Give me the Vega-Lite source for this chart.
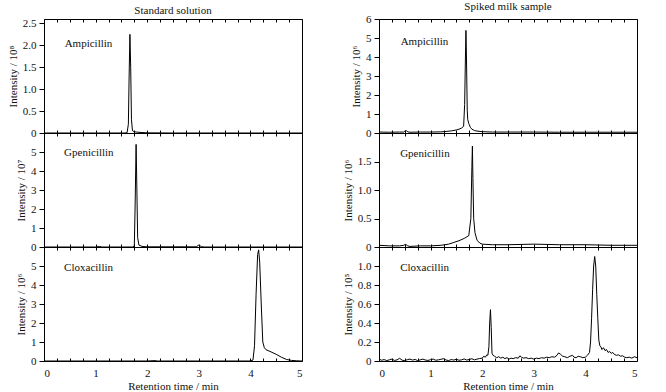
{
  "$schema": "https://vega.github.io/schema/vega-lite/v6.json",
  "padding": {"left": 6, "top": 0, "right": 5, "bottom": 0},
  "config": {
    "font": "Liberation Serif, serif",
    "view": {"stroke": "#000", "strokeWidth": 1},
    "axis": {"domain": false, "grid": false, "labelOverlap": false, "labelFont": "Liberation Serif, serif", "labelFontSize": 11, "labelColor": "#111", "titleFont": "Liberation Serif, serif", "titleFontSize": 11, "titleFontWeight": "normal", "titleColor": "#111", "tickColor": "#000"},
    "title": {"font": "Liberation Serif, serif", "fontSize": 11, "fontWeight": "normal", "color": "#111", "offset": 1},
    "text": {"font": "Liberation Serif, serif", "fontSize": 11, "color": "#111"}
  },
  "datasets": {
    "chrom": [
      {"s":"A1","t":0,"v":0},{"s":"A1","t":1.0,"v":0},{"s":"A1","t":1.55,"v":0},{"s":"A1","t":1.61,"v":0.005},{"s":"A1","t":1.635,"v":0.2},{"s":"A1","t":1.65,"v":1.3},{"s":"A1","t":1.665,"v":2.25},{"s":"A1","t":1.68,"v":1.5},{"s":"A1","t":1.695,"v":0.3},{"s":"A1","t":1.715,"v":0.05},{"s":"A1","t":1.75,"v":0.03},{"s":"A1","t":1.8,"v":0.02},{"s":"A1","t":1.9,"v":0.01},{"s":"A1","t":2.0,"v":0.004},{"s":"A1","t":2.5,"v":0},{"s":"A1","t":5,"v":0},
      {"s":"G1","t":0,"v":0},{"s":"G1","t":1.0,"v":0},{"s":"G1","t":1.08,"v":0.03},{"s":"G1","t":1.12,"v":0},{"s":"G1","t":1.72,"v":0},{"s":"G1","t":1.75,"v":0.05},{"s":"G1","t":1.765,"v":2.0},{"s":"G1","t":1.785,"v":5.4},{"s":"G1","t":1.8,"v":3.0},{"s":"G1","t":1.815,"v":0.5},{"s":"G1","t":1.84,"v":0.1},{"s":"G1","t":1.9,"v":0.03},{"s":"G1","t":2.0,"v":0.01},{"s":"G1","t":2.95,"v":0.01},{"s":"G1","t":3.0,"v":0.1},{"s":"G1","t":3.05,"v":0.02},{"s":"G1","t":3.1,"v":0},{"s":"G1","t":5,"v":0},
      {"s":"C1","t":0,"v":0},{"s":"C1","t":2.0,"v":0},{"s":"C1","t":2.15,"v":0.02},{"s":"C1","t":2.2,"v":0},{"s":"C1","t":4.0,"v":0},{"s":"C1","t":4.05,"v":0.05},{"s":"C1","t":4.08,"v":0.8},{"s":"C1","t":4.11,"v":3.5},{"s":"C1","t":4.14,"v":5.6},{"s":"C1","t":4.16,"v":5.85},{"s":"C1","t":4.18,"v":5.2},{"s":"C1","t":4.21,"v":3.0},{"s":"C1","t":4.24,"v":1.0},{"s":"C1","t":4.27,"v":0.7},{"s":"C1","t":4.3,"v":0.6},{"s":"C1","t":4.4,"v":0.48},{"s":"C1","t":4.5,"v":0.35},{"s":"C1","t":4.6,"v":0.2},{"s":"C1","t":4.7,"v":0.08},{"s":"C1","t":4.8,"v":0.03},{"s":"C1","t":4.9,"v":0.01},{"s":"C1","t":5,"v":0},
      {"s":"A2","t":0,"v":0.05},{"s":"A2","t":0.2,"v":0.04},{"s":"A2","t":0.4,"v":0.05},{"s":"A2","t":0.48,"v":0.05},{"s":"A2","t":0.5,"v":0.1},{"s":"A2","t":0.53,"v":0.12},{"s":"A2","t":0.56,"v":0.06},{"s":"A2","t":0.6,"v":0.04},{"s":"A2","t":0.8,"v":0.05},{"s":"A2","t":1.0,"v":0.05},{"s":"A2","t":1.2,"v":0.06},{"s":"A2","t":1.3,"v":0.08},{"s":"A2","t":1.4,"v":0.11},{"s":"A2","t":1.5,"v":0.16},{"s":"A2","t":1.55,"v":0.2},{"s":"A2","t":1.6,"v":0.26},{"s":"A2","t":1.64,"v":0.35},{"s":"A2","t":1.66,"v":1.5},{"s":"A2","t":1.675,"v":4.0},{"s":"A2","t":1.685,"v":5.4},{"s":"A2","t":1.695,"v":4.0},{"s":"A2","t":1.71,"v":1.2},{"s":"A2","t":1.72,"v":0.7},{"s":"A2","t":1.74,"v":0.5},{"s":"A2","t":1.77,"v":0.3},{"s":"A2","t":1.8,"v":0.2},{"s":"A2","t":1.85,"v":0.13},{"s":"A2","t":1.9,"v":0.1},{"s":"A2","t":2.0,"v":0.07},{"s":"A2","t":2.2,"v":0.05},{"s":"A2","t":2.5,"v":0.05},{"s":"A2","t":3.0,"v":0.05},{"s":"A2","t":3.5,"v":0.04},{"s":"A2","t":4.0,"v":0.04},{"s":"A2","t":4.5,"v":0.04},{"s":"A2","t":5,"v":0.04},
      {"s":"G2","t":0,"v":0.03},{"s":"G2","t":0.2,"v":0.02},{"s":"G2","t":0.4,"v":0.02},{"s":"G2","t":0.48,"v":0.03},{"s":"G2","t":0.52,"v":0.05},{"s":"G2","t":0.55,"v":0.02},{"s":"G2","t":0.6,"v":0.01},{"s":"G2","t":0.8,"v":0.02},{"s":"G2","t":1.0,"v":0.02},{"s":"G2","t":1.2,"v":0.03},{"s":"G2","t":1.35,"v":0.05},{"s":"G2","t":1.45,"v":0.08},{"s":"G2","t":1.55,"v":0.11},{"s":"G2","t":1.65,"v":0.15},{"s":"G2","t":1.74,"v":0.2},{"s":"G2","t":1.78,"v":0.5},{"s":"G2","t":1.8,"v":1.4},{"s":"G2","t":1.81,"v":1.77},{"s":"G2","t":1.82,"v":1.2},{"s":"G2","t":1.835,"v":0.5},{"s":"G2","t":1.86,"v":0.25},{"s":"G2","t":1.9,"v":0.12},{"s":"G2","t":1.95,"v":0.07},{"s":"G2","t":2.0,"v":0.05},{"s":"G2","t":2.2,"v":0.04},{"s":"G2","t":2.5,"v":0.04},{"s":"G2","t":3.0,"v":0.05},{"s":"G2","t":3.5,"v":0.04},{"s":"G2","t":4.0,"v":0.04},{"s":"G2","t":4.5,"v":0.03},{"s":"G2","t":5,"v":0.03},
      {"s":"C2","t":0,"v":0.02},{"s":"C2","t":0.05,"v":0.008},{"s":"C2","t":0.1,"v":0.015},{"s":"C2","t":0.15,"v":0.004},{"s":"C2","t":0.2,"v":0.012},{"s":"C2","t":0.25,"v":0.02},{"s":"C2","t":0.3,"v":0.006},{"s":"C2","t":0.35,"v":0.012},{"s":"C2","t":0.4,"v":0.028},{"s":"C2","t":0.45,"v":0.008},{"s":"C2","t":0.5,"v":0.004},{"s":"C2","t":0.55,"v":0.014},{"s":"C2","t":0.6,"v":0.02},{"s":"C2","t":0.65,"v":0.01},{"s":"C2","t":0.7,"v":0.016},{"s":"C2","t":0.75,"v":0.004},{"s":"C2","t":0.8,"v":0.012},{"s":"C2","t":0.85,"v":0.02},{"s":"C2","t":0.9,"v":0.01},{"s":"C2","t":0.95,"v":0.006},{"s":"C2","t":1.0,"v":0.014},{"s":"C2","t":1.05,"v":0.02},{"s":"C2","t":1.1,"v":0.008},{"s":"C2","t":1.15,"v":0.012},{"s":"C2","t":1.2,"v":0.018},{"s":"C2","t":1.25,"v":0.024},{"s":"C2","t":1.3,"v":0.01},{"s":"C2","t":1.35,"v":0.005},{"s":"C2","t":1.4,"v":0.015},{"s":"C2","t":1.45,"v":0.01},{"s":"C2","t":1.5,"v":0.018},{"s":"C2","t":1.55,"v":0.008},{"s":"C2","t":1.6,"v":0.012},{"s":"C2","t":1.65,"v":0.022},{"s":"C2","t":1.7,"v":0.01},{"s":"C2","t":1.75,"v":0.016},{"s":"C2","t":1.8,"v":0.024},{"s":"C2","t":1.85,"v":0.012},{"s":"C2","t":1.9,"v":0.02},{"s":"C2","t":1.95,"v":0.026},{"s":"C2","t":2.0,"v":0.03},{"s":"C2","t":2.03,"v":0.05},{"s":"C2","t":2.06,"v":0.04},{"s":"C2","t":2.09,"v":0.065},{"s":"C2","t":2.11,"v":0.06},{"s":"C2","t":2.13,"v":0.15},{"s":"C2","t":2.145,"v":0.4},{"s":"C2","t":2.16,"v":0.54},{"s":"C2","t":2.175,"v":0.35},{"s":"C2","t":2.19,"v":0.08},{"s":"C2","t":2.21,"v":0.06},{"s":"C2","t":2.24,"v":0.05},{"s":"C2","t":2.28,"v":0.035},{"s":"C2","t":2.32,"v":0.045},{"s":"C2","t":2.36,"v":0.03},{"s":"C2","t":2.4,"v":0.04},{"s":"C2","t":2.44,"v":0.025},{"s":"C2","t":2.48,"v":0.035},{"s":"C2","t":2.52,"v":0.02},{"s":"C2","t":2.56,"v":0.03},{"s":"C2","t":2.6,"v":0.025},{"s":"C2","t":2.65,"v":0.035},{"s":"C2","t":2.7,"v":0.03},{"s":"C2","t":2.73,"v":0.055},{"s":"C2","t":2.76,"v":0.04},{"s":"C2","t":2.8,"v":0.03},{"s":"C2","t":2.85,"v":0.035},{"s":"C2","t":2.9,"v":0.025},{"s":"C2","t":2.95,"v":0.03},{"s":"C2","t":3.0,"v":0.02},{"s":"C2","t":3.05,"v":0.03},{"s":"C2","t":3.1,"v":0.025},{"s":"C2","t":3.15,"v":0.035},{"s":"C2","t":3.2,"v":0.03},{"s":"C2","t":3.25,"v":0.04},{"s":"C2","t":3.3,"v":0.035},{"s":"C2","t":3.35,"v":0.045},{"s":"C2","t":3.4,"v":0.04},{"s":"C2","t":3.45,"v":0.06},{"s":"C2","t":3.48,"v":0.085},{"s":"C2","t":3.52,"v":0.07},{"s":"C2","t":3.56,"v":0.05},{"s":"C2","t":3.6,"v":0.045},{"s":"C2","t":3.65,"v":0.035},{"s":"C2","t":3.7,"v":0.05},{"s":"C2","t":3.75,"v":0.06},{"s":"C2","t":3.78,"v":0.04},{"s":"C2","t":3.82,"v":0.035},{"s":"C2","t":3.86,"v":0.05},{"s":"C2","t":3.9,"v":0.045},{"s":"C2","t":3.95,"v":0.035},{"s":"C2","t":4.0,"v":0.04},{"s":"C2","t":4.04,"v":0.06},{"s":"C2","t":4.08,"v":0.09},{"s":"C2","t":4.1,"v":0.2},{"s":"C2","t":4.12,"v":0.45},{"s":"C2","t":4.14,"v":0.75},{"s":"C2","t":4.16,"v":1.0},{"s":"C2","t":4.18,"v":1.1},{"s":"C2","t":4.2,"v":1.0},{"s":"C2","t":4.22,"v":0.7},{"s":"C2","t":4.24,"v":0.45},{"s":"C2","t":4.26,"v":0.22},{"s":"C2","t":4.28,"v":0.16},{"s":"C2","t":4.3,"v":0.15},{"s":"C2","t":4.32,"v":0.12},{"s":"C2","t":4.35,"v":0.14},{"s":"C2","t":4.38,"v":0.11},{"s":"C2","t":4.41,"v":0.12},{"s":"C2","t":4.44,"v":0.09},{"s":"C2","t":4.47,"v":0.1},{"s":"C2","t":4.5,"v":0.08},{"s":"C2","t":4.53,"v":0.09},{"s":"C2","t":4.56,"v":0.07},{"s":"C2","t":4.6,"v":0.06},{"s":"C2","t":4.64,"v":0.065},{"s":"C2","t":4.68,"v":0.05},{"s":"C2","t":4.72,"v":0.055},{"s":"C2","t":4.76,"v":0.04},{"s":"C2","t":4.8,"v":0.035},{"s":"C2","t":4.85,"v":0.04},{"s":"C2","t":4.9,"v":0.03},{"s":"C2","t":4.95,"v":0.045},{"s":"C2","t":5.0,"v":0.035}
    ]
  },
  "spacing": 36,
  "hconcat": [
    {
      "spacing": 0,
      "bounds": "flush",
      "vconcat": [
        {
          "width": 258, "height": 114,
          "title": {"text": "Standard solution"},
          "resolve": {"axis": {"x": "independent"}},
          "layer": [
            {"data": {"name": "chrom"},
             "transform": [{"filter": "datum.s === 'A1'"}],
             "mark": {"type": "line", "color": "#000", "strokeWidth": 1},
             "encoding": {
               "x": {"field": "t", "type": "quantitative", "scale": {"domain": [0, 5]}, "axis": {"orient": "bottom", "values": [0,0.25,0.5,0.75,1,1.25,1.5,1.75,2,2.25,2.5,2.75,3,3.25,3.5,3.75,4,4.25,4.5,4.75,5], "tickCount": 50, "labels": false, "title": null, "tickSize": -3}},
               "y": {"field": "v", "type": "quantitative", "scale": {"domain": [0, 2.5]}, "axis": {"values": [0,0.5,1,1.5,2,2.5], "tickCount": 50, "labelExpr": "datum.value === 0 ? '0' : format(datum.value, '.1f')", "title": "Intensity / 10⁸", "tickSize": 5, "labelPadding": 3}}
             }},
            {"data": {"values": [{"label": "Ampicillin"}]},
             "mark": {"type": "text", "align": "left", "baseline": "middle"},
             "encoding": {
               "x": {"datum": 0.4, "type": "quantitative", "axis": {"orient": "top", "values": [0,0.25,0.5,0.75,1,1.25,1.5,1.75,2,2.25,2.5,2.75,3,3.25,3.5,3.75,4,4.25,4.5,4.75,5], "tickCount": 50, "labels": false, "title": null, "tickSize": -3}},
               "y": {"datum": 2.04, "type": "quantitative"},
               "text": {"field": "label"}
             }}
          ]
        },
        {
          "width": 258, "height": 114,
          "resolve": {"axis": {"x": "independent"}},
          "layer": [
            {"data": {"name": "chrom"},
             "transform": [{"filter": "datum.s === 'G1'"}],
             "mark": {"type": "line", "color": "#000", "strokeWidth": 1},
             "encoding": {
               "x": {"field": "t", "type": "quantitative", "scale": {"domain": [0, 5]}, "axis": {"orient": "bottom", "values": [0,0.25,0.5,0.75,1,1.25,1.5,1.75,2,2.25,2.5,2.75,3,3.25,3.5,3.75,4,4.25,4.5,4.75,5], "tickCount": 50, "labels": false, "title": null, "tickSize": -3}},
               "y": {"field": "v", "type": "quantitative", "scale": {"domain": [0, 6]}, "axis": {"values": [0,1,2,3,4,5], "tickCount": 50, "format": "d", "title": "Intensity / 10⁷", "tickSize": 5, "labelPadding": 3}}
             }},
            {"data": {"values": [{"label": "Gpenicillin"}]},
             "mark": {"type": "text", "align": "left", "baseline": "middle"},
             "encoding": {
               "x": {"datum": 0.39, "type": "quantitative", "axis": {"orient": "top", "values": [0,0.25,0.5,0.75,1,1.25,1.5,1.75,2,2.25,2.5,2.75,3,3.25,3.5,3.75,4,4.25,4.5,4.75,5], "tickCount": 50, "labels": false, "title": null, "tickSize": -3}},
               "y": {"datum": 4.93, "type": "quantitative"},
               "text": {"field": "label"}
             }}
          ]
        },
        {
          "width": 258, "height": 114,
          "resolve": {"axis": {"x": "independent"}},
          "layer": [
            {"data": {"name": "chrom"},
             "transform": [{"filter": "datum.s === 'C1'"}],
             "mark": {"type": "line", "color": "#000", "strokeWidth": 1},
             "encoding": {
               "x": {"field": "t", "type": "quantitative", "scale": {"domain": [0, 5]}, "axis": {"orient": "bottom", "values": [0,0.25,0.5,0.75,1,1.25,1.5,1.75,2,2.25,2.5,2.75,3,3.25,3.5,3.75,4,4.25,4.5,4.75,5], "tickCount": 50, "labelExpr": "datum.value % 1 === 0 ? format(datum.value, 'd') : ''", "title": "Retention time / min", "tickSize": -3, "labelPadding": 9, "titlePadding": 2}},
               "y": {"field": "v", "type": "quantitative", "scale": {"domain": [0, 6]}, "axis": {"values": [0,1,2,3,4,5], "tickCount": 50, "format": "d", "title": "Intensity / 10⁶", "tickSize": 5, "labelPadding": 3}}
             }},
            {"data": {"values": [{"label": "Cloxacillin"}]},
             "mark": {"type": "text", "align": "left", "baseline": "middle"},
             "encoding": {
               "x": {"datum": 0.39, "type": "quantitative", "axis": {"orient": "top", "values": [0,0.25,0.5,0.75,1,1.25,1.5,1.75,2,2.25,2.5,2.75,3,3.25,3.5,3.75,4,4.25,4.5,4.75,5], "tickCount": 50, "labels": false, "title": null, "tickSize": -3}},
               "y": {"datum": 4.91, "type": "quantitative"},
               "text": {"field": "label"}
             }}
          ]
        }
      ]
    },
    {
      "spacing": 0,
      "bounds": "flush",
      "vconcat": [
        {
          "width": 258, "height": 114,
          "title": {"text": "Spiked milk sample"},
          "resolve": {"axis": {"x": "independent"}},
          "layer": [
            {"data": {"name": "chrom"},
             "transform": [{"filter": "datum.s === 'A2'"}],
             "mark": {"type": "line", "color": "#000", "strokeWidth": 1},
             "encoding": {
               "x": {"field": "t", "type": "quantitative", "scale": {"domain": [0, 5]}, "axis": {"orient": "bottom", "values": [0,0.25,0.5,0.75,1,1.25,1.5,1.75,2,2.25,2.5,2.75,3,3.25,3.5,3.75,4,4.25,4.5,4.75,5], "tickCount": 50, "labels": false, "title": null, "tickSize": -3}},
               "y": {"field": "v", "type": "quantitative", "scale": {"domain": [0, 6]}, "axis": {"values": [0,1,2,3,4,5,6], "tickCount": 50, "format": "d", "title": "Intensity / 10⁶", "tickSize": 5, "labelPadding": 3}}
             }},
            {"data": {"values": [{"label": "Ampicillin"}]},
             "mark": {"type": "text", "align": "left", "baseline": "middle"},
             "encoding": {
               "x": {"datum": 0.42, "type": "quantitative", "axis": {"orient": "top", "values": [0,0.25,0.5,0.75,1,1.25,1.5,1.75,2,2.25,2.5,2.75,3,3.25,3.5,3.75,4,4.25,4.5,4.75,5], "tickCount": 50, "labels": false, "title": null, "tickSize": -3}},
               "y": {"datum": 4.79, "type": "quantitative"},
               "text": {"field": "label"}
             }}
          ]
        },
        {
          "width": 258, "height": 114,
          "resolve": {"axis": {"x": "independent"}},
          "layer": [
            {"data": {"name": "chrom"},
             "transform": [{"filter": "datum.s === 'G2'"}],
             "mark": {"type": "line", "color": "#000", "strokeWidth": 1},
             "encoding": {
               "x": {"field": "t", "type": "quantitative", "scale": {"domain": [0, 5]}, "axis": {"orient": "bottom", "values": [0,0.25,0.5,0.75,1,1.25,1.5,1.75,2,2.25,2.5,2.75,3,3.25,3.5,3.75,4,4.25,4.5,4.75,5], "tickCount": 50, "labels": false, "title": null, "tickSize": -3}},
               "y": {"field": "v", "type": "quantitative", "scale": {"domain": [0, 2]}, "axis": {"values": [0,0.5,1,1.5], "tickCount": 50, "labelExpr": "datum.value === 0 ? '0' : format(datum.value, '.1f')", "title": "Intensity / 10⁶", "tickSize": 5, "labelPadding": 3}}
             }},
            {"data": {"values": [{"label": "Gpenicillin"}]},
             "mark": {"type": "text", "align": "left", "baseline": "middle"},
             "encoding": {
               "x": {"datum": 0.41, "type": "quantitative", "axis": {"orient": "top", "values": [0,0.25,0.5,0.75,1,1.25,1.5,1.75,2,2.25,2.5,2.75,3,3.25,3.5,3.75,4,4.25,4.5,4.75,5], "tickCount": 50, "labels": false, "title": null, "tickSize": -3}},
               "y": {"datum": 1.64, "type": "quantitative"},
               "text": {"field": "label"}
             }}
          ]
        },
        {
          "width": 258, "height": 114,
          "resolve": {"axis": {"x": "independent"}},
          "layer": [
            {"data": {"name": "chrom"},
             "transform": [{"filter": "datum.s === 'C2'"}],
             "mark": {"type": "line", "color": "#000", "strokeWidth": 1},
             "encoding": {
               "x": {"field": "t", "type": "quantitative", "scale": {"domain": [0, 5]}, "axis": {"orient": "bottom", "values": [0,0.25,0.5,0.75,1,1.25,1.5,1.75,2,2.25,2.5,2.75,3,3.25,3.5,3.75,4,4.25,4.5,4.75,5], "tickCount": 50, "labelExpr": "datum.value % 1 === 0 ? format(datum.value, 'd') : ''", "title": "Retention time / min", "tickSize": -3, "labelPadding": 9, "titlePadding": 2}},
               "y": {"field": "v", "type": "quantitative", "scale": {"domain": [0, 1.2]}, "axis": {"values": [0,0.2,0.4,0.6,0.8,1.0], "tickCount": 50, "labelExpr": "datum.value === 0 ? '0' : format(datum.value, '.1f')", "title": "Intensity / 10⁵", "tickSize": 5, "labelPadding": 3}}
             }},
            {"data": {"values": [{"label": "Cloxacillin"}]},
             "mark": {"type": "text", "align": "left", "baseline": "middle"},
             "encoding": {
               "x": {"datum": 0.41, "type": "quantitative", "axis": {"orient": "top", "values": [0,0.25,0.5,0.75,1,1.25,1.5,1.75,2,2.25,2.5,2.75,3,3.25,3.5,3.75,4,4.25,4.5,4.75,5], "tickCount": 50, "labels": false, "title": null, "tickSize": -3}},
               "y": {"datum": 0.98, "type": "quantitative"},
               "text": {"field": "label"}
             }}
          ]
        }
      ]
    }
  ]
}
